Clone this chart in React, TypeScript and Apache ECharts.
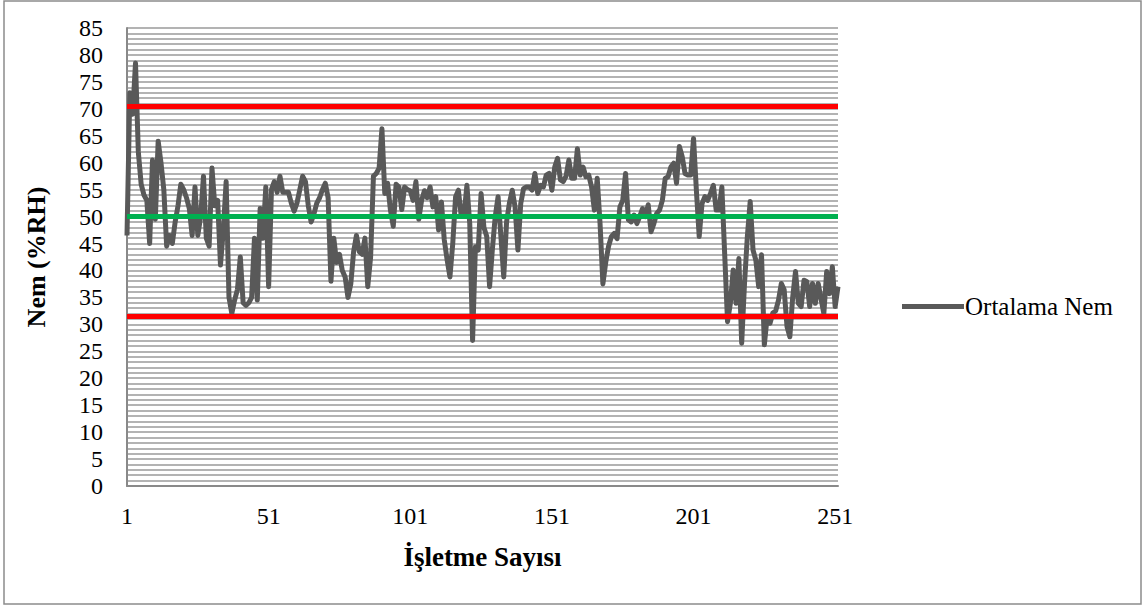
import React, { useEffect, useRef } from "react";
import * as echarts from "echarts";

const nemValues: number[] = [
  46.5, 73, 69, 78.5, 62, 56, 54, 53, 45, 60.5,
  49.5, 64, 60, 55, 44.5, 46.5, 45, 49, 52, 56,
  55, 53.5, 51.5, 46.5, 55.5, 46.5, 50, 57.5, 46, 44.5,
  59, 52, 53, 41, 47.5, 56.5, 35, 32, 34.5, 36.5,
  42.5, 34, 33.5, 34, 35, 46, 34.5, 51.5, 46, 55.5,
  37, 55, 56.5, 54.5, 57.5, 54.5, 54.5, 54.5, 52.5, 51,
  52.5, 55, 57.5, 56.5, 52, 49, 50.5, 52.5, 53.5, 55,
  56.2, 53.5, 38, 46, 41.5, 43, 40, 38.8, 35, 37.5,
  43.5, 46.5, 43.5, 43, 46, 37, 42.5, 57.5, 58, 59,
  66.3, 54.3, 56.2, 51.2, 48.2, 56, 55.5, 51.3, 55.5, 55,
  54.8, 53, 56.5, 49.5, 53, 54.8, 53.5, 55.5, 51.8, 53.7,
  47.5, 52.7, 45.7, 42, 38.8, 45, 53.7, 54.9, 50, 50.5,
  55.8, 48.7, 27, 44.4, 43.8, 54.3, 48, 46.3, 37, 44,
  50, 53.7, 46.3, 38.8, 49, 52.5, 54.9, 51.8, 43.8, 52.4,
  55.2, 55.5, 55.5, 54.9, 58, 54.3, 55.8, 55.5, 57.7, 58,
  54.9, 59.2, 60.8, 56.8, 56.5, 57.5, 60.5, 57.1, 57.1, 62.6,
  57.7, 59.2, 57.4, 57.7, 55.5, 51.2, 57.1, 48.7, 37.5, 41.5,
  44.5, 46.3, 46.9, 45.9, 51.8, 53, 58, 49.4, 49, 50.3,
  48.7, 50, 51.5, 50, 52.2, 47.2, 48.7, 50.6, 51.2, 53,
  57.1, 57.4, 59.2, 59.9, 56.2, 63, 61.1, 58, 57.7, 57.7,
  64.5, 54.9, 46.3, 52.4, 53.7, 53, 54.3, 55.8, 51.2, 51.2,
  55.5, 43, 30.5, 33.9, 40.1, 33.9, 42.2, 26.5, 37.6, 46.3,
  52.8, 43.8, 41.9, 37, 42.9, 26.2, 31.4, 30.2, 32.1, 32.5,
  34.5, 37.6, 36.4, 29.6, 27.7, 35, 39.8, 33.9, 33.3, 38.2,
  37.9, 33.3, 37.6, 33.9, 37.6, 34.8, 32, 39.8, 35.7, 40.7,
  33.3, 37,
];

const categories: string[] = nemValues.map((_, i) => String(i + 1));

const upperLimit = 70.5;
const centerLine = 50;
const lowerLimit = 31.5;

const seriesName = "Ortalama Nem";
const xAxisTitle = "İşletme Sayısı";
const yAxisTitle = "Nem (%RH)";

const FONT = "Times New Roman";
const FS = 24;

export default function App() {
  const ref = useRef<HTMLDivElement>(null);

  useEffect(() => {
    if (!ref.current) return;
    const chart = echarts.init(ref.current, undefined, { renderer: "svg" });
    chart.setOption({
      animation: false,
      backgroundColor: "#ffffff",
      textStyle: { fontFamily: FONT },
      graphic: [
        {
          type: "rect",
          shape: { x: 4, y: 1, width: 1137, height: 603 },
          style: { fill: "none", stroke: "#8c8c8c", lineWidth: 1.5 },
          silent: true,
        },
      ],
      grid: { left: 127, right: 309, top: 28, bottom: 122, containLabel: false },
      legend: {
        data: [seriesName],
        left: 897,
        top: 289,
        icon: "rect",
        itemWidth: 62,
        itemHeight: 5,
        itemGap: 0,
        textStyle: { fontFamily: FONT, fontSize: 25, color: "#000", padding: [0, 0, 0, -4] },
        itemStyle: { color: "#595959" },
      },
      xAxis: {
        type: "category",
        data: categories,
        boundaryGap: false,
        name: xAxisTitle,
        nameLocation: "middle",
        nameGap: 57,
        nameTextStyle: { fontFamily: FONT, fontSize: 27, fontWeight: "bold", color: "#000" },
        axisLine: { show: true, lineStyle: { color: "#898989", width: 2 } },
        axisTick: { show: false },
        axisLabel: {
          interval: 49,
          fontFamily: FONT,
          fontSize: FS,
          color: "#000",
          margin: 18,
        },
        splitLine: { show: false },
      },
      yAxis: {
        type: "value",
        min: 0,
        max: 85,
        interval: 5,
        name: yAxisTitle,
        nameLocation: "middle",
        nameGap: 78,
        nameRotate: 90,
        nameTextStyle: { fontFamily: FONT, fontSize: 26, fontWeight: "bold", color: "#000" },
        axisLine: { show: true, lineStyle: { color: "#898989", width: 2 } },
        axisTick: { show: false },
        axisLabel: { fontFamily: FONT, fontSize: FS, color: "#000", margin: 24 },
        splitLine: { show: true, lineStyle: { color: "#b3b3b3", width: 2 } },
        minorTick: { show: false, splitNumber: 5 },
        minorSplitLine: { show: true, lineStyle: { color: "#b3b3b3", width: 2 } },
      },
      series: [
        {
          name: seriesName,
          type: "line",
          data: nemValues,
          showSymbol: false,
          symbol: "none",
          lineStyle: { color: "#595959", width: 5, join: "round" },
          itemStyle: { color: "#595959" },
          z: 3,
          markLine: {
            silent: true,
            symbol: ["none", "none"],
            label: { show: false },
            animation: false,
            data: [
              { yAxis: upperLimit, lineStyle: { color: "#ff0000", width: 5, type: "solid" } },
              { yAxis: centerLine, lineStyle: { color: "#00b050", width: 5, type: "solid" } },
              { yAxis: lowerLimit, lineStyle: { color: "#ff0000", width: 5, type: "solid" } },
            ],
          },
        },
      ],
    });
    return () => chart.dispose();
  }, []);

  return (
    <div
      ref={ref}
      style={{ position: "fixed", left: 0, top: 0, width: 1147, height: 608 }}
    />
  );
}
